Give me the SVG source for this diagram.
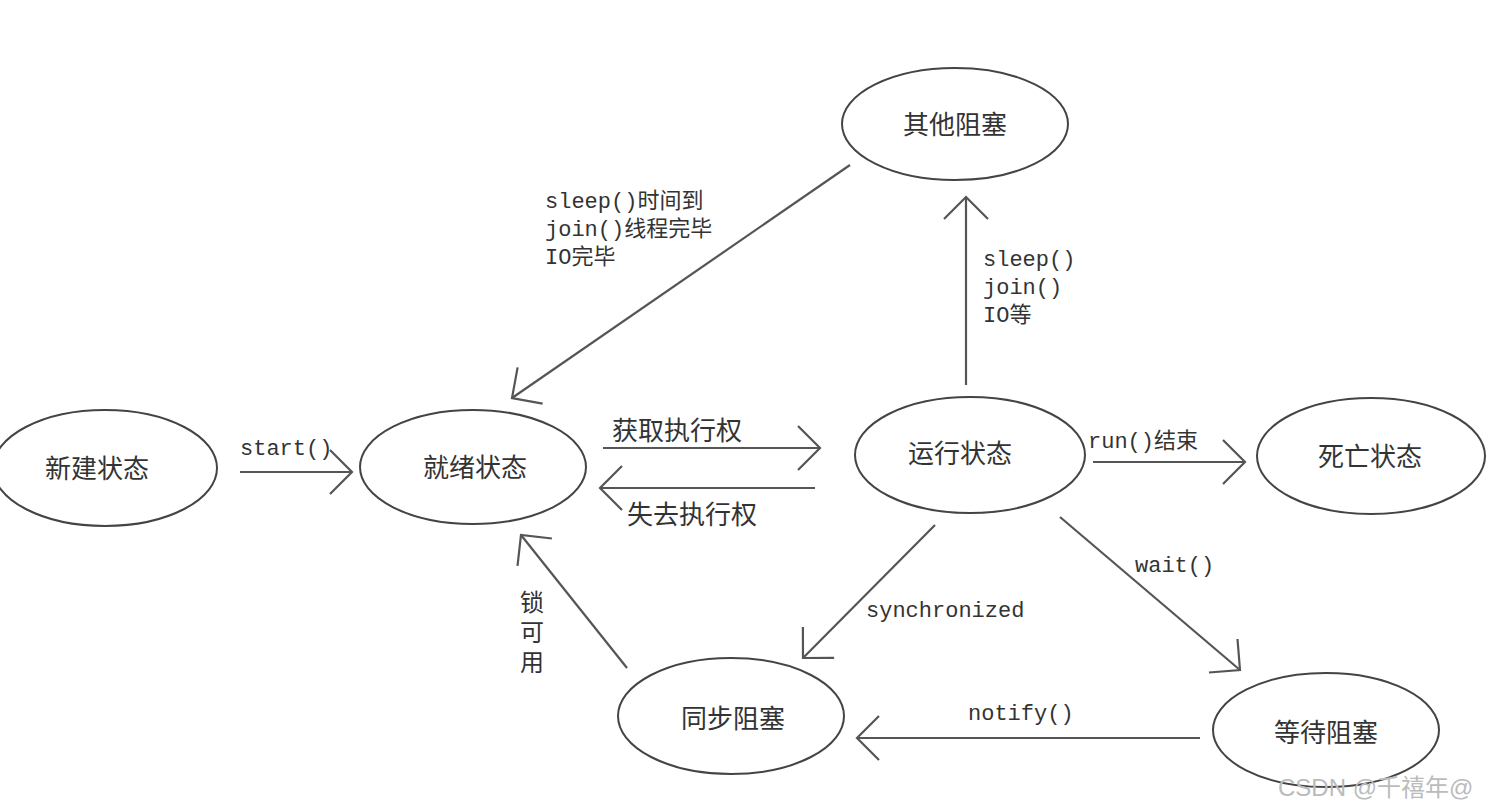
<svg xmlns="http://www.w3.org/2000/svg" width="1495" height="811" viewBox="0 0 1495 811">
<defs>
<marker id="v" markerUnits="userSpaceOnUse" markerWidth="40" markerHeight="60" refX="0" refY="0" viewBox="-30 -30 34 60" orient="auto">
<path d="M -22 -22 L 0 0 L -22 22" fill="none" stroke="#555" stroke-width="2.2"/>
</marker>
<style>
.node ellipse{fill:#fff;stroke:#444;stroke-width:2}
.node text{font-family:"Noto Sans CJK SC","Noto Sans",sans-serif;font-size:26px;fill:#333;text-anchor:middle}
.conn line{stroke:#555;stroke-width:2.2;marker-end:url(#v)}
.lbl{font-family:"Liberation Mono","Noto Sans CJK SC",monospace;font-size:22px;fill:#333}
.cjk{font-family:"Noto Sans CJK SC",sans-serif;font-size:26px;fill:#333}
.vt{font-family:"Noto Sans CJK SC",sans-serif;font-size:24px;fill:#333;writing-mode:vertical-rl;letter-spacing:6px}
</style>
</defs>
<rect width="1495" height="811" fill="#fff"/>
<g id="conn" class="conn">
<line x1="240" y1="472" x2="352" y2="472" stroke-width="3"/>
<line x1="603" y1="448" x2="820" y2="448"/>
<line x1="815" y1="488" x2="600" y2="488"/>
<line x1="1093" y1="462" x2="1245" y2="462" stroke-width="3"/>
<line x1="966" y1="385" x2="966" y2="197"/>
<line x1="850" y1="165" x2="512" y2="398"/>
<line x1="935" y1="525" x2="803" y2="658"/>
<line x1="1060" y1="517" x2="1240" y2="670"/>
<line x1="1200" y1="738" x2="857" y2="738"/>
<line x1="627" y1="668" x2="521" y2="535"/>
</g>
<g id="labels">
<text class="lbl" x="240" y="455">start()</text>
<text class="cjk" x="612" y="440">获取执行权</text>
<text class="cjk" x="627" y="524">失去执行权</text>
<text class="lbl" x="1088" y="448">run()结束</text>
<text class="lbl" x="545" y="208">sleep()时间到</text>
<text class="lbl" x="545" y="236">join()线程完毕</text>
<text class="lbl" x="545" y="264">IO完毕</text>
<text class="lbl" x="983" y="266">sleep()</text>
<text class="lbl" x="983" y="294">join()</text>
<text class="lbl" x="983" y="322">IO等</text>
<text class="lbl" x="866" y="617">synchronized</text>
<text class="lbl" x="1135" y="572">wait()</text>
<text class="lbl" x="968" y="720">notify()</text>
<text class="vt" x="532" y="590">锁可用</text>
</g>
<g id="n_other" class="node"><ellipse cx="955" cy="124" rx="113" ry="56"/><text x="955" y="134">其他阻塞</text></g>
<g id="n_new" class="node"><ellipse cx="105" cy="468" rx="112" ry="58"/><text x="97" y="478">新建状态</text></g>
<g id="n_ready" class="node"><ellipse cx="473" cy="467" rx="113" ry="57"/><text x="475" y="477">就绪状态</text></g>
<g id="n_run" class="node"><ellipse cx="970" cy="455" rx="115" ry="58"/><text x="960" y="463">运行状态</text></g>
<g id="n_dead" class="node"><ellipse cx="1371" cy="456" rx="114" ry="58"/><text x="1370" y="466">死亡状态</text></g>
<g id="n_sync" class="node"><ellipse cx="731" cy="716" rx="113" ry="58"/><text x="733" y="728">同步阻塞</text></g>
<g id="n_wait" class="node"><ellipse cx="1326" cy="730" rx="113" ry="57"/><text x="1326" y="742">等待阻塞</text></g>
<text x="1278" y="796" font-family="Liberation Sans,Noto Sans CJK SC,sans-serif" font-size="24" fill="#bbb">CSDN @千禧年@</text>
</svg>
